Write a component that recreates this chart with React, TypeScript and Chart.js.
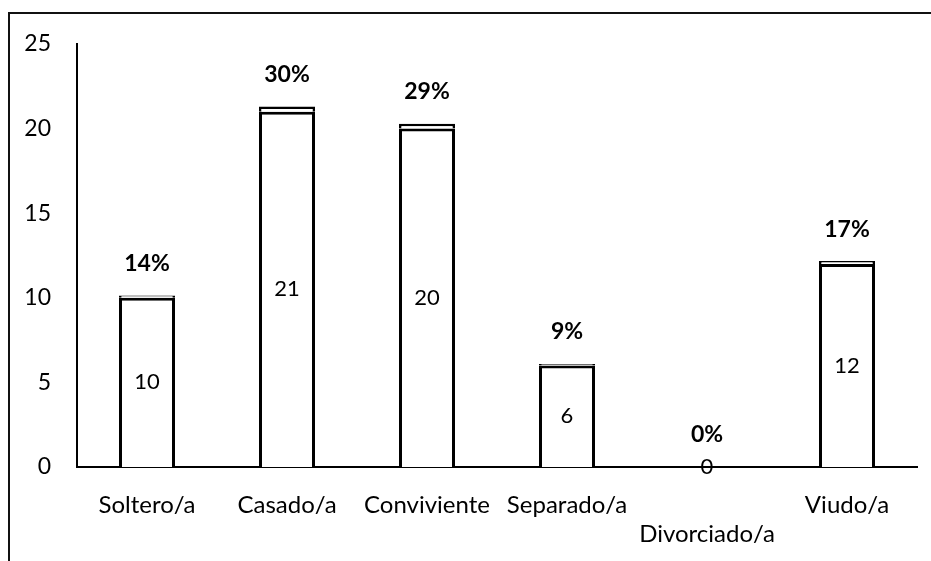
import React, { useEffect, useRef } from "react";
import { Chart, registerables } from "chart.js";

Chart.register(...registerables);

const categories: (string | string[])[] = [
  "Soltero/a",
  "Casado/a",
  "Conviviente",
  "Separado/a",
  ["", "Divorciado/a"],
  "Viudo/a",
];
const counts = [10, 21, 20, 6, 0, 12];
const percents = [14, 30, 29, 9, 0, 17];
const yTicks = [0, 5, 10, 15, 20, 25];

const FONT = "Lato, 'Open Sans', sans-serif";
const INK = "#000000";

const labelPlugin = {
  id: "barLabels",
  afterDatasetsDraw(chart: any) {
    const ctx = chart.ctx;
    const m0 = chart.getDatasetMeta(0).data;
    const m1 = chart.getDatasetMeta(1).data;
    ctx.save();
    ctx.fillStyle = INK;
    ctx.textAlign = "center";
    ctx.textBaseline = "middle";
    counts.forEach((v, i) => {
      const b = m0[i];
      ctx.font = `normal 22px ${FONT}`;
      ctx.fillText(String(v), b.x, (b.y + b.base) / 2);
      const t = m1[i];
      ctx.font = `bold 23px ${FONT}`;
      ctx.fillText(`${percents[i]}%`, t.x, t.y - 32);
    });
    ctx.restore();
  },
};

export default function App() {
  const ref = useRef<HTMLCanvasElement | null>(null);

  useEffect(() => {
    if (!ref.current) return;
    const chart = new Chart(ref.current, {
      type: "bar",
      data: {
        labels: categories,
        datasets: [
          {
            data: counts,
            backgroundColor: "#ffffff",
            borderColor: INK,
            borderWidth: 3,
            barPercentage: 0.4,
            categoryPercentage: 1,
            stack: "s",
          },
          {
            data: percents.map((p) => p / 100),
            backgroundColor: "#ffffff",
            borderColor: INK,
            borderWidth: 2.5,
            barPercentage: 0.4,
            categoryPercentage: 1,
            stack: "s",
          },
        ],
      },
      options: {
        responsive: false,
        animation: false,
        layout: { padding: { top: 30, right: 14, left: 0, bottom: 0 } },
        plugins: {
          legend: { display: false },
          tooltip: { enabled: false },
          title: { display: false },
        },
        scales: {
          x: {
            stacked: true,
            grid: { display: false, drawTicks: false },
            border: { display: true, color: INK, width: 2 },
            ticks: {
              color: INK,
              font: { family: FONT, size: 24, lineHeight: 1.2 },
              padding: 24,
              maxRotation: 0,
              autoSkip: false,
            },
            afterFit: (s: any) => {
              s.height = 94;
            },
          },
          y: {
            stacked: true,
            min: 0,
            max: 25,
            afterBuildTicks: (s: any) => {
              s.ticks = yTicks.map((v) => ({ value: v }));
            },
            grid: { display: false, drawTicks: false },
            border: { display: true, color: INK, width: 2 },
            ticks: {
              color: INK,
              font: { family: FONT, size: 23 },
              padding: 26,
            },
            afterFit: (s: any) => {
              s.width = 67;
              s.paddingTop = 0;
            },
          },
        },
      },
      plugins: [labelPlugin],
    });
    return () => chart.destroy();
  }, []);

  return (
    <div
      style={{
        position: "fixed",
        left: 0,
        top: 0,
        width: 931,
        height: 561,
        overflow: "hidden",
        background: "#ffffff",
      }}
    >
      <div
        style={{
          position: "absolute",
          left: 8,
          top: 12,
          width: 960,
          height: 600,
          border: "2px solid #111111",
        }}
      />
      <canvas
        ref={ref}
        width={921}
        height={547}
        style={{ position: "absolute", left: 10, top: 14, width: 921, height: 547 }}
      />
    </div>
  );
}
